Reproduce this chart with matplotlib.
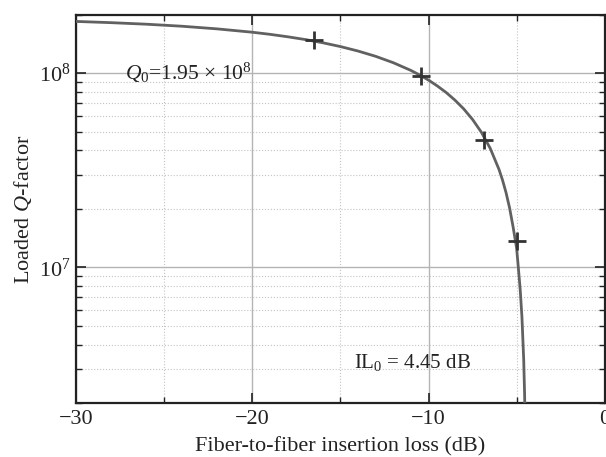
import numpy as np
import matplotlib.pyplot as plt
from matplotlib.ticker import LogLocator, MultipleLocator, NullFormatter

# curve (insertion loss in dB, loaded Q)
il_curve = [-30, -28, -26, -24, -22, -20, -19, -18, -17, -16, -15, -14, -13, -12,
            -11, -10.5, -10, -9.5, -9, -8.5, -8, -7.5, -7, -6.5, -6, -5.8, -5.6,
            -5.4, -5.2, -5.0, -4.9, -4.8, -4.7, -4.6, -4.55, -4.52]
q_curve = [1.847e8, 1.820e8, 1.787e8, 1.745e8, 1.691e8, 1.625e8, 1.585e8, 1.540e8,
           1.490e8, 1.434e8, 1.371e8, 1.300e8, 1.221e8, 1.132e8, 1.033e8, 9.78e7,
           9.21e7, 8.59e7, 7.95e7, 7.26e7, 6.54e7, 5.77e7, 4.96e7, 4.10e7, 3.19e7,
           2.81e7, 2.42e7, 2.02e7, 1.61e7, 1.25e7, 9.85e6, 7.7e6, 5.54e6, 3.34e6,
           2.23e6, 1.57e6]

# measured points
il_meas = [-16.5, -10.4, -6.85, -4.97]
q_meas = [1.49e8, 9.7e7, 4.5e7, 1.37e7]

plt.rcParams['font.family'] = ['Liberation Serif', 'DejaVu Serif']
plt.rcParams['mathtext.fontset'] = 'custom'
plt.rcParams['mathtext.rm'] = 'Liberation Serif'
plt.rcParams['mathtext.it'] = 'Liberation Serif:italic'

fig = plt.figure(figsize=(6.06, 4.57), dpi=100)
ax = fig.add_axes([0.1254, 0.1182, 0.8726, 0.8496])

ax.plot(il_curve, q_curve, color='#616161', lw=2.0, zorder=3)
ax.plot(il_meas, q_meas, ls='none', marker='+', ms=13, mew=2.0, color='#333333', zorder=4)

ax.set_yscale('log')
ax.set_xlim(-30, 0)
ax.set_ylim(2e6, 2e8)

ax.xaxis.set_major_locator(MultipleLocator(10))
ax.xaxis.set_minor_locator(MultipleLocator(5))
ax.yaxis.set_major_locator(LogLocator(base=10, numticks=10))
ax.yaxis.set_minor_locator(LogLocator(base=10, subs=np.arange(2, 10), numticks=10))
ax.yaxis.set_minor_formatter(NullFormatter())
ax.set_xticks([-30, -20, -10, 0])
ax.set_xticklabels(['\u221230', '\u221220', '\u221210', '0'])

ax.grid(which='major', color='#b4b4b4', lw=1.0, ls='-')
ax.grid(which='minor', color='#c4c4c4', lw=0.8, ls=':')
ax.set_axisbelow(True)

ax.tick_params(which='both', direction='in', top=True, right=True, labelsize=16, colors='#222222')
ax.tick_params(axis='x', which='major', pad=5)
ax.tick_params(which='major', length=7, width=1.2)
ax.tick_params(which='minor', length=4, width=1.0)
for s in ax.spines.values():
    s.set_color('#222222')
    s.set_linewidth(1.6)

ax.set_xlabel('Fiber-to-fiber insertion loss (dB)', fontsize=16, color='#222222', labelpad=6)
ax.set_ylabel('Loaded $\\mathit{Q}$-factor', fontsize=16, color='#222222', labelpad=4)

ax.text(-27.2, 1.0e8, '$\\mathit{Q}_0$=1.95 \u00d7 10$^8$', fontsize=15.5, color='#222222',
        va='center', ha='left')
ax.text(-14.2, 3.25e6, 'IL$_0$ = 4.45 dB', fontsize=15, color='#222222', va='center', ha='left')

fig.savefig('out.png', dpi=100)
